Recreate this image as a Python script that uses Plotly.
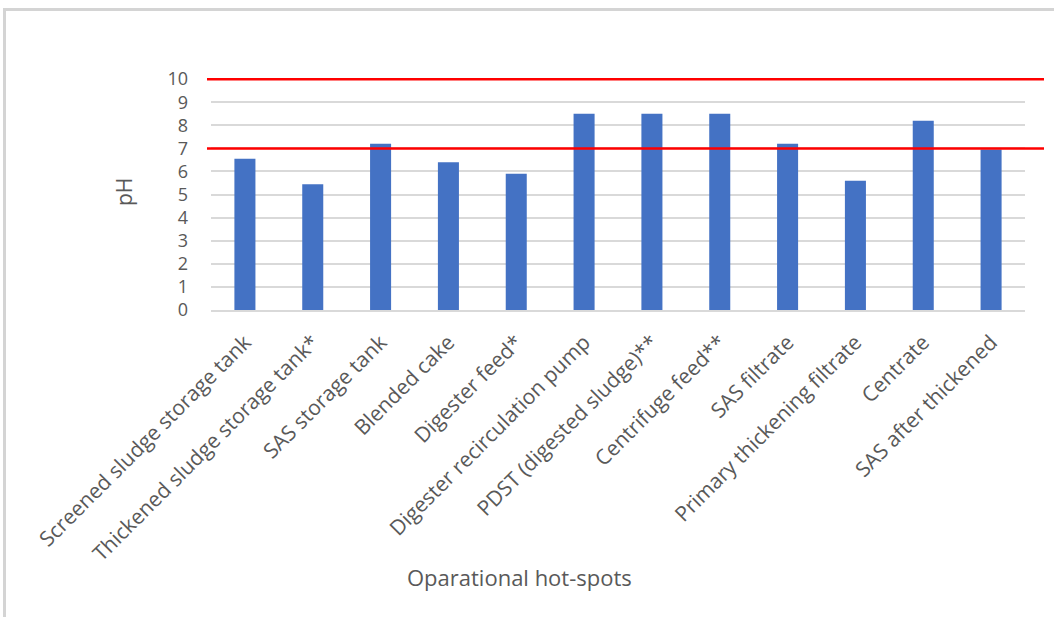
import plotly.graph_objects as go

categories = [
    "Screened sludge storage tank",
    "Thickened sludge storage tank*",
    "SAS storage tank",
    "Blended cake",
    "Digester feed*",
    "Digester recirculation pump",
    "PDST (digested sludge)**",
    "Centrifuge feed**",
    "SAS filtrate",
    "Primary thickening filtrate",
    "Centrate",
    "SAS after thickened",
]
ph_values = [6.55, 5.45, 7.2, 6.4, 5.9, 8.5, 8.5, 8.5, 7.2, 5.6, 8.2, 6.95]
limits = [7, 10]
y_ticks = list(range(0, 11))

W, H = 1054, 617
L, R, T, B = 211, 29, 78, 307
pw = W - L - R
ph = H - T - B

def px_x(p):
    return (p - L) / pw

def px_y(p):
    return (H - B - p) / ph

FONT = "Open Sans"
GREY = "#595959"

fig = go.Figure()
fig.add_trace(go.Bar(x=categories, y=ph_values, marker=dict(color="#4472C4", line=dict(width=0)),
                     showlegend=False))

shapes = []
for v in limits:
    shapes.append(dict(type="line", xref="paper", yref="y", x0=px_x(207), x1=px_x(1044),
                       y0=v, y1=v, line=dict(color="#FF0000", width=2.5), layer="above"))
# outer chart frame (top and left edges visible)
shapes.append(dict(type="line", xref="paper", yref="paper", x0=px_x(3), x1=px_x(1054),
                   y0=px_y(9.5), y1=px_y(9.5), line=dict(color="#d4d4d4", width=3)))
shapes.append(dict(type="line", xref="paper", yref="paper", x0=px_x(4.5), x1=px_x(4.5),
                   y0=px_y(9), y1=px_y(617), line=dict(color="#d4d4d4", width=3)))

fig.update_layout(
    width=W, height=H,
    margin=dict(l=L, r=R, t=T, b=B, autoexpand=False),
    paper_bgcolor="white", plot_bgcolor="white",
    bargap=0.69,
    shapes=shapes,
    font=dict(family=FONT, color=GREY),
    xaxis=dict(
        tickangle=-45, tickfont=dict(size=21, color=GREY, family=FONT),
        showgrid=False, showline=True, linecolor="#d9d9d9", linewidth=1.5,
        ticks="", ticklabelstandoff=10,
    ),
    yaxis=dict(
        range=[0, 10.05], tickvals=y_ticks, tickfont=dict(size=18, color=GREY, family=FONT),
        showgrid=True, gridcolor="#d9d9d9", gridwidth=1.5, zeroline=False,
        showline=False, ticks="", ticklabelstandoff=22,
    ),
    annotations=[
        dict(text="Oparational hot-spots", xref="paper", yref="paper",
             x=px_x(519), y=px_y(577), showarrow=False, xanchor="center", yanchor="middle",
             font=dict(size=22, color=GREY, family=FONT)),
        dict(text="pH", xref="paper", yref="paper", textangle=-90,
             x=px_x(124), y=px_y(192), showarrow=False, xanchor="center", yanchor="middle",
             font=dict(size=21, color=GREY, family=FONT)),
    ],
)

fig.write_html("out.html", config={"displayModeBar": False},
               post_script="document.body.style.margin='0px';document.body.style.padding='0px';")
